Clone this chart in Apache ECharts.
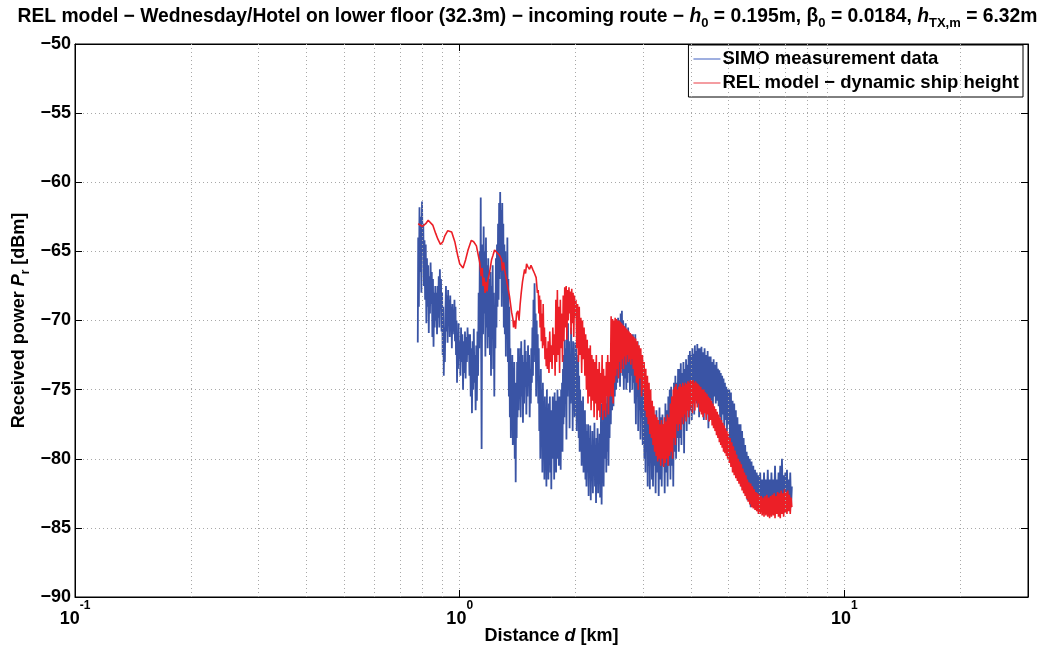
<!DOCTYPE html>
<html><head><meta charset="utf-8">
<script src="https://cdn.jsdelivr.net/npm/echarts@6/dist/echarts.min.js"></script>
<style>html,body{margin:0;padding:0;background:#fff}#c{width:1055px;height:650px}</style>
</head><body><div id="c"></div>
<script>
// SIMO measurement data: [distance km, received power dBm]
const simoData = [
[0.778,-71.6],[0.780,-64],[0.783,-69],[0.786,-61.8],[0.789,-66.5],[0.792,-62.5],[0.795,-68],[0.798,-61.4],[0.801,-65],[0.804,-63],[0.807,-67.5],[0.810,-64.2],
[0.813,-68.5],[0.816,-64.5],[0.819,-70.2],[0.822,-65.5],[0.825,-69],[0.828,-66],[0.831,-70.9],[0.834,-66.8],[0.837,-69.5],[0.840,-65.8],[0.843,-68.8],[0.846,-66.5],[0.849,-71.2],[0.852,-67],[0.855,-71.9],[0.858,-68],[0.861,-70.5],
[0.864,-67.5],[0.867,-70],[0.870,-68],[0.873,-71],[0.876,-67.5],[0.879,-69.8],[0.882,-66.8],[0.885,-70.5],[0.888,-66.3],[0.891,-69],[0.894,-67],[0.897,-70.8],[0.900,-68],[0.903,-72.5],[0.906,-69],[0.909,-74],[0.912,-70.5],[0.915,-73],
[0.918,-69.5],[0.921,-67.5],[0.924,-70.8],[0.927,-68.2],[0.930,-71.6],[0.933,-67.8],[0.936,-70.2],[0.939,-68.5],[0.942,-71.2],[0.945,-68.2],[0.948,-70.5],[0.951,-69],[0.954,-72],[0.957,-68.8],[0.960,-71],[0.963,-69.5],[0.966,-70.8],[0.969,-68.5],
[0.972,-71.5],[0.975,-69],[0.978,-72.5],[0.981,-70],[0.984,-74.5],[0.987,-71],[0.990,-73.5],[0.993,-70.2],[0.996,-72.8],[1.000,-71.5],[1.004,-74],[1.008,-70.5],[1.012,-73],[1.016,-71],[1.020,-75],[1.024,-71.5],[1.028,-73.8],[1.032,-70.8],[1.036,-74.2],[1.040,-71.2],[1.044,-73],[1.048,-70.5],[1.052,-72.5],[1.056,-71],[1.060,-74],
[1.064,-71],[1.068,-75.5],[1.072,-72],[1.076,-76.7],[1.080,-71.5],[1.084,-75],[1.088,-70.6],[1.092,-74.5],[1.096,-72.5],[1.100,-76.5],[1.104,-71.8],[1.108,-75.8],[1.112,-70.8],[1.116,-74],[1.120,-68],[1.124,-72],
[1.128,-65],[1.131,-70],[1.134,-61.1],[1.137,-72],[1.140,-79.3],[1.143,-70],
[1.146,-64.5],[1.150,-71],[1.154,-63.2],[1.158,-69.5],[1.162,-65],[1.166,-72.6],[1.170,-64],[1.174,-70.5],[1.178,-66],[1.182,-72],[1.186,-65.5],[1.190,-71.2],[1.194,-67],
[1.198,-72.5],[1.202,-66.5],[1.206,-74],[1.210,-67.5],[1.214,-71],[1.218,-66],[1.222,-73.5],[1.226,-68],[1.230,-75.5],[1.234,-69],[1.238,-72],[1.242,-65.5],[1.246,-70.5],[1.250,-64.5],[1.254,-69],[1.258,-63],[1.262,-68.5],[1.266,-61.5],
[1.270,-67],[1.274,-60.7],[1.278,-66.5],[1.282,-62],[1.286,-69],[1.290,-61.5],[1.294,-67.5],[1.298,-63],[1.302,-70.5],[1.306,-64.5],
[1.310,-71],[1.314,-65],[1.318,-72.6],[1.322,-66.5],[1.326,-70],[1.330,-64],[1.334,-73],[1.338,-67],[1.342,-75.5],[1.346,-69],
[1.350,-77],[1.354,-72],[1.358,-78.5],[1.362,-73.5],[1.366,-76],[1.370,-72.5],[1.374,-79],[1.378,-74],[1.382,-77.5],[1.386,-73],[1.390,-80],[1.394,-75],[1.398,-81.7],[1.402,-74.5],[1.406,-78.5],[1.410,-73],[1.414,-77],[1.418,-72],[1.422,-76.5],[1.426,-73.5],[1.430,-75.5],
[1.435,-72],[1.440,-77],[1.445,-71.5],[1.450,-75.5],[1.455,-72.5],[1.460,-77.4],[1.465,-73],[1.470,-76],[1.475,-71.4],[1.480,-74.8],[1.485,-72.2],[1.490,-76.8],[1.495,-73],[1.500,-75.5],[1.505,-71.8],[1.510,-74.5],[1.515,-72.5],[1.520,-77],[1.525,-73.5],[1.530,-76],[1.535,-72],[1.540,-74.5],[1.545,-70.5],[1.550,-74],[1.555,-68.5],[1.560,-73],[1.565,-67.3],[1.570,-72],[1.575,-69.5],[1.580,-75.5],[1.585,-70],[1.590,-74],[1.595,-71],[1.600,-76],[1.605,-72],[1.610,-78],
[1.615,-74],[1.620,-80],[1.625,-73.5],[1.630,-79],[1.635,-75],[1.640,-81],[1.645,-74.5],[1.650,-78.5],[1.655,-76],[1.660,-81.5],[1.665,-75.5],[1.670,-79.5],[1.675,-76.5],[1.680,-82],[1.685,-75],[1.690,-80.5],[1.695,-77],[1.700,-81.5],[1.705,-76],[1.710,-79.5],[1.715,-75.5],[1.720,-81],[1.725,-76.5],[1.730,-82.2],[1.735,-77],[1.740,-80],[1.745,-75.5],[1.750,-79],[1.755,-76],[1.760,-81.5],
[1.765,-75.2],[1.770,-79.5],[1.775,-75.8],[1.780,-81],[1.785,-76.5],[1.790,-80],[1.795,-75],[1.800,-78.5],[1.805,-76],[1.810,-80.5],[1.815,-75.5],[1.820,-79],[1.825,-76.2],[1.830,-80.8],[1.835,-75],[1.840,-78],[1.845,-74.5],[1.850,-79.5],[1.855,-73.5],[1.860,-77.5],[1.865,-72.5],[1.870,-77],
[1.876,-71.4],[1.882,-76],[1.888,-72],[1.894,-78.6],[1.900,-71],[1.906,-75.5],[1.912,-70.2],[1.918,-74.8],[1.924,-71.5],[1.930,-77.8],[1.936,-72.5],[1.942,-76],[1.948,-70.5],[1.954,-75],[1.960,-72],[1.966,-78],[1.972,-71.5],[1.978,-76.5],[1.984,-72.8],[1.990,-77],[1.996,-71.6],
[2.002,-75.5],[2.008,-72],[2.014,-78],[2.020,-73],[2.026,-77],[2.032,-72.5],[2.038,-78.5],[2.044,-74],[2.050,-79.5],[2.056,-75],[2.062,-78],[2.068,-75.8],[2.074,-80.5],[2.080,-76],[2.086,-79],[2.092,-75.5],[2.098,-81],[2.104,-77],[2.110,-80],[2.116,-76.5],[2.122,-81.5],[2.128,-77.5],
[2.135,-82],[2.142,-78],[2.149,-81],[2.156,-77.5],[2.163,-82.7],[2.170,-78.5],[2.177,-80.5],[2.184,-77.6],[2.191,-83],[2.198,-79],[2.205,-81.5],[2.212,-78],[2.219,-82.5],[2.226,-78.8],[2.233,-80.8],[2.240,-77.4],[2.247,-82],[2.254,-79],[2.261,-83.2],[2.268,-78.5],[2.275,-81],[2.282,-77.8],[2.289,-82.5],[2.296,-79],[2.303,-81.5],[2.310,-78.2],[2.317,-82.8],[2.324,-79.5],
[2.331,-76],[2.338,-83.3],[2.345,-77.5],[2.352,-81.5],[2.359,-76.5],[2.366,-82],[2.373,-78],
[2.380,-75],[2.388,-80],[2.396,-75.5],[2.404,-81],[2.412,-76],[2.420,-79.5],[2.428,-74.8],[2.436,-80.5],[2.444,-76],[2.452,-78.5],
[2.460,-73.5],[2.470,-77.5],[2.480,-72.5],[2.490,-76.5],[2.500,-71.5],[2.510,-76.2],[2.520,-71],[2.530,-75.5],[2.540,-70.2],[2.550,-75],[2.560,-70.5],[2.570,-74.5],[2.580,-69.8],[2.590,-74],[2.600,-70],[2.610,-74.8],[2.620,-69.5],[2.630,-73.5],[2.640,-69.3],
[2.650,-74],[2.660,-70],[2.670,-75],[2.680,-70.5],[2.690,-74.2],[2.700,-70.2],[2.710,-75],[2.720,-71],[2.730,-74.5],[2.740,-70.5],[2.750,-73.8],[2.760,-71.2],[2.770,-75.2],[2.780,-71],[2.790,-74],[2.800,-71.5],[2.810,-75],[2.820,-71],[2.830,-74.5],[2.840,-71.8],
[2.850,-76],[2.860,-71],[2.870,-77.5],[2.880,-72],[2.890,-75.5],[2.900,-71.5],[2.910,-78],[2.920,-72.5],[2.930,-76.5],[2.940,-73],[2.950,-78.6],[2.960,-73.5],[2.970,-77],[2.980,-74],[2.990,-79],[3.000,-74.5],[3.010,-77.5],
[3.020,-80],[3.030,-74.5],[3.040,-81],[3.050,-75],[3.060,-79.5],[3.070,-75.5],[3.080,-82],[3.090,-76],[3.100,-80.5],[3.110,-75],[3.120,-82.2],[3.130,-77],[3.140,-80],[3.150,-76],[3.160,-81.5],[3.170,-77.5],[3.180,-82],[3.190,-76.5],[3.200,-80.5],
[3.215,-77],[3.230,-82.5],[3.245,-76.5],[3.260,-81],[3.275,-77.5],[3.290,-82.7],[3.305,-76.3],[3.320,-81.5],[3.335,-77],[3.350,-82],[3.365,-76.8],[3.380,-80.5],[3.395,-77.5],[3.410,-82.5],[3.425,-76],[3.440,-81],[3.455,-76.5],[3.470,-82],[3.485,-75.5],[3.500,-80.5],
[3.515,-75],[3.530,-81.5],[3.545,-74.8],[3.560,-80.5],[3.575,-75.5],[3.590,-82],[3.605,-74.5],[3.620,-79.5],[3.635,-74],[3.650,-80],[3.665,-74.5],[3.680,-78.5],[3.695,-73.5],[3.710,-79.5],
[3.725,-73.5],[3.740,-78.5],[3.755,-73.1],[3.770,-79],[3.785,-73.8],[3.800,-77.5],[3.815,-73],[3.830,-79.6],[3.845,-73.5],[3.860,-77],[3.875,-72.8],[3.890,-78],[3.905,-73.2],[3.920,-76.5],[3.935,-72.5],[3.950,-77.5],
[3.965,-72.2],[3.980,-76.5],[3.995,-72.5],[4.010,-77.2],[4.025,-72],[4.040,-75.5],[4.055,-72.4],[4.070,-76.8],[4.085,-71.8],[4.100,-75],[4.115,-72.2],[4.130,-76],[4.145,-71.7],[4.160,-75.5],[4.175,-72],[4.190,-77],
[4.210,-72],[4.230,-76.5],[4.250,-71.9],[4.270,-75.5],[4.290,-72.3],[4.310,-77.2],[4.330,-72],[4.350,-75.8],[4.370,-72.5],[4.390,-76.5],[4.410,-72.2],[4.430,-77.8],[4.450,-72.6],
[4.470,-76],[4.490,-72.6],[4.510,-75.8],[4.530,-73],[4.550,-76.3],[4.570,-72.8],[4.590,-75.5],[4.610,-73.2],[4.630,-76],[4.650,-73],[4.670,-75.8],[4.690,-73.5],[4.710,-76.2],
[4.730,-73.6],[4.750,-77],[4.770,-73.8],[4.790,-77.5],[4.810,-74],[4.830,-76.8],[4.850,-74.2],[4.870,-77.9],[4.890,-74.5],[4.910,-77.2],[4.930,-74.8],[4.950,-78],[4.970,-75],[4.990,-77.5],
[5.020,-75],[5.045,-79.5],[5.070,-75.2],[5.095,-80],[5.120,-75.8],[5.145,-80.5],[5.170,-76],[5.195,-79.8],[5.220,-76.5],[5.245,-80.8],[5.270,-77],[5.295,-80.2],[5.320,-77.5],
[5.345,-81.5],[5.370,-77.5],[5.395,-82],[5.420,-78],[5.445,-81.8],[5.470,-78.5],[5.495,-82.5],[5.520,-79],[5.545,-82],[5.570,-79.5],[5.595,-83],[5.620,-79.8],[5.645,-82.8],
[5.675,-80],[5.705,-83.5],[5.735,-80.2],[5.765,-83],[5.795,-80.5],[5.825,-83.5],[5.855,-80.8],[5.885,-83.2],[5.915,-81],[5.945,-83.8],[5.975,-81.2],
[6.005,-83.5],[6.040,-81],[6.075,-83.8],[6.110,-81.5],[6.145,-83.5],[6.180,-81],[6.215,-83.6],[6.250,-81.5],[6.285,-83.2],[6.320,-80.8],[6.355,-83.5],[6.390,-81.5],[6.425,-83.8],[6.460,-81],[6.495,-83.3],[6.530,-81.5],[6.565,-83.5],[6.600,-80.5],[6.635,-83],[6.670,-81.5],[6.705,-83.4],[6.740,-81],
[6.775,-83],[6.810,-80.5],[6.845,-83.2],[6.880,-80],[6.915,-83],[6.950,-81.2],[6.985,-83.5],[7.020,-81],[7.055,-83],[7.090,-80.8],[7.125,-83.2],[7.160,-81.5],[7.195,-83],[7.230,-81],[7.265,-83.5],[7.300,-82]
];

// REL model - dynamic ship height: [distance km, received power dBm]
const relData = [
[0.780,-63.0],[0.788,-63.1],[0.800,-63.2],[0.806,-63.15],[0.816,-63.0],[0.828,-62.75],[0.836,-62.8],[0.851,-63.1],[0.866,-63.7],[0.877,-64.1],[0.891,-64.5],[0.904,-64.3],[0.914,-63.9],[0.931,-63.5],[0.942,-63.4],[0.953,-63.6],[0.971,-64.3],[0.988,-65.3],[1.000,-65.9],[1.020,-66.2],[1.036,-65.6],[1.051,-64.9],[1.072,-64.2],[1.087,-64.3],[1.105,-64.6],[1.127,-65.8],
[1.137,-66.8],[1.144,-66.2],[1.150,-67.5],[1.157,-66.9],[1.164,-68.0],[1.170,-67.2],[1.178,-67.9],[1.185,-67.0],[1.196,-66.5],[1.210,-65.6],[1.220,-65.3],[1.232,-64.9],[1.245,-65.0],[1.270,-65.3],[1.284,-65.6],[1.291,-66.4],[1.300,-65.8],[1.308,-66.3],[1.322,-67.0],[1.348,-68.3],[1.364,-69.4],[1.375,-69.9],[1.380,-70.5],[1.389,-70.0],[1.397,-70.6],[1.405,-69.5],[1.416,-69.3],[1.426,-70.0],[1.435,-68.9],[1.445,-68.0],[1.456,-67.2],[1.474,-66.3],[1.483,-66.6],[1.492,-65.9],[1.503,-66.1],[1.519,-66.3],[1.532,-66.0],[1.548,-66.3],[1.565,-66.6],[1.580,-66.9],[1.592,-68.0],
[1.600,-67.8],[1.606,-69.5],[1.612,-68.2],[1.618,-70.5],[1.624,-68.5],[1.630,-71.5],[1.636,-69.5],[1.642,-72],[1.648,-68.8],[1.654,-71.8],[1.660,-70.5],[1.666,-72.8],[1.672,-71.2],[1.678,-73.3],[1.684,-72],[1.690,-73.5],
[1.698,-71.5],[1.706,-73.8],[1.714,-70.8],[1.722,-73],[1.730,-71.8],[1.738,-73.5],[1.746,-70.5],[1.754,-72.5],[1.762,-71],[1.770,-74],[1.778,-68.5],[1.786,-73],
[1.794,-67.8],[1.802,-72.5],[1.810,-69],[1.818,-73.8],[1.826,-68.5],[1.834,-72],[1.842,-69.5],[1.850,-73],[1.858,-68.2],[1.866,-71.5],
[1.875,-67.6],[1.883,-70.5],[1.891,-67.5],[1.899,-71.4],[1.907,-67.8],[1.915,-70],[1.923,-67.6],[1.931,-69.5],[1.939,-67.9],[1.947,-71],[1.955,-67.7],[1.963,-70.2],[1.971,-68],[1.979,-71.2],[1.987,-68.2],[1.995,-69.8],
[2.005,-68.5],[2.015,-72],[2.025,-68.8],[2.035,-73],[2.045,-69],[2.055,-72.5],[2.065,-69.8],[2.075,-73.8],[2.085,-70],[2.095,-72.8],[2.105,-70.5],[2.115,-74],[2.125,-71],
[2.135,-75],[2.145,-71.4],[2.155,-76],[2.165,-72],[2.175,-75.5],[2.185,-71.8],[2.195,-76.5],[2.205,-72.5],[2.215,-75.8],[2.225,-72.8],[2.235,-77],[2.245,-73],[2.255,-76],[2.265,-72.5],[2.275,-77.2],[2.285,-73.5],[2.295,-76.5],[2.305,-73],[2.315,-77],[2.325,-73.8],[2.335,-76],[2.345,-72.5],[2.355,-77.2],[2.365,-73.5],[2.375,-76.5],[2.385,-74],[2.395,-77],[2.405,-73],[2.415,-75.5],[2.425,-72.5],[2.435,-76.8],[2.445,-73],[2.455,-75.5],[2.465,-74],
[2.475,-69.7],[2.485,-75.5],[2.495,-69.9],[2.505,-76],[2.515,-70],
[2.525,-74.5],[2.535,-69.8],[2.545,-74],[2.555,-69.9],[2.565,-73.5],[2.575,-70],[2.585,-74.2],[2.595,-70],[2.605,-73],[2.615,-70.1],[2.625,-73.8],[2.635,-70.2],[2.645,-72.8],[2.655,-70.3],[2.665,-73.5],[2.675,-70.4],[2.685,-72.6],[2.695,-70.5],[2.705,-73.2],[2.715,-70.6],[2.725,-72.5],[2.735,-70.7],[2.745,-73],[2.755,-70.8],[2.765,-72.8],[2.775,-70.9],[2.785,-73.2],[2.795,-71],[2.805,-72.8],[2.815,-71.1],[2.825,-73.5],[2.835,-71.2],
[2.850,-74],[2.865,-71.3],[2.880,-74.5],[2.895,-71.5],[2.910,-75],[2.925,-71.8],[2.940,-74.2],[2.955,-72],[2.970,-75.5],[2.985,-72.5],[3.000,-75],[3.015,-73],[3.030,-76.5],[3.045,-73.5],
[3.060,-77],[3.075,-74],[3.090,-77.5],[3.105,-74.5],[3.120,-78.2],[3.135,-75],[3.150,-78.5],[3.165,-75.8],[3.180,-79],[3.195,-76.2],[3.210,-79.5],[3.225,-76.8],[3.240,-79.8],[3.255,-77],[3.270,-80.2],[3.285,-77.2],[3.300,-80],[3.315,-77.5],[3.330,-80.5],[3.345,-77.2],[3.360,-80],[3.375,-77.5],[3.390,-80.6],
[3.405,-77],[3.420,-80.3],[3.435,-77.3],[3.450,-80],[3.465,-76.8],[3.480,-80.5],[3.495,-77],
[3.515,-79.8],[3.530,-76],[3.545,-79.5],[3.560,-75.5],[3.575,-80],[3.590,-75],[3.605,-78.5],[3.620,-74.8],[3.635,-79],[3.650,-74.6],[3.665,-77.5],[3.680,-75],[3.695,-78],[3.710,-74.8],
[3.725,-77.5],[3.740,-74.6],[3.755,-77.9],[3.770,-74.8],[3.785,-77],[3.800,-74.5],[3.815,-77.5],[3.830,-74.7],[3.845,-76.8],[3.860,-74.5],[3.875,-77.3],[3.890,-74.6],[3.905,-76.5],[3.920,-74.4],[3.935,-77],[3.950,-74.5],
[3.965,-76.5],[3.980,-74.3],[3.995,-76.2],[4.010,-74.4],[4.025,-76.7],[4.040,-74.3],[4.055,-76],[4.070,-74.5],[4.085,-76.5],[4.100,-74.4],[4.115,-75.8],[4.130,-74.5],[4.145,-76.3],[4.160,-74.6],[4.175,-76],[4.190,-74.7],
[4.210,-76.6],[4.230,-74.8],[4.250,-76.8],[4.270,-75],[4.290,-77],[4.310,-75],[4.330,-76.7],[4.350,-75.2],[4.370,-77.2],[4.390,-75.3],[4.410,-76.8],[4.430,-75.5],[4.450,-77.3],[4.470,-75.6],[4.490,-77.2],[4.510,-75.8],[4.530,-77.6],[4.550,-76],[4.570,-77.8],[4.590,-76.2],[4.610,-78],[4.630,-76.4],[4.650,-78.3],[4.670,-76.6],[4.690,-78.5],[4.710,-76.8],
[4.730,-78.8],[4.750,-77],[4.770,-79],[4.790,-77.2],[4.810,-79.2],[4.830,-77.4],[4.850,-79.5],[4.870,-77.6],[4.890,-79.6],[4.910,-77.8],[4.930,-79.8],[4.950,-78],[4.970,-80],[4.990,-78.2],
[5.020,-80.3],[5.045,-78.5],[5.070,-80.6],[5.095,-78.8],[5.120,-81],[5.145,-79.1],[5.170,-81.2],[5.195,-79.4],[5.220,-81.4],[5.245,-79.7],[5.270,-81.6],[5.295,-80],[5.320,-81.8],
[5.345,-80.2],[5.370,-82],[5.395,-80.4],[5.420,-82.3],[5.445,-80.7],[5.470,-82.5],[5.495,-81],[5.520,-82.7],[5.545,-81.2],[5.570,-82.9],[5.595,-81.5],[5.620,-83.1],[5.645,-81.7],
[5.675,-83.3],[5.705,-81.8],[5.735,-83.5],[5.765,-82],[5.795,-83.6],[5.825,-82.2],[5.855,-83.7],[5.885,-82.4],[5.915,-83.8],[5.945,-82.5],[5.975,-84],
[6.005,-82.6],[6.040,-84],[6.075,-82.7],[6.110,-84.1],[6.145,-82.8],[6.180,-84.2],[6.215,-82.7],[6.250,-84.1],[6.285,-82.6],[6.320,-84.2],[6.355,-82.8],[6.390,-84.3],[6.425,-82.7],[6.460,-84.2],[6.495,-82.6],[6.530,-84.1],[6.565,-82.5],[6.600,-84.3],[6.635,-82.7],[6.670,-84],[6.705,-82.4],[6.740,-84.2],
[6.775,-82.5],[6.810,-84.3],[6.845,-82.3],[6.880,-84],[6.915,-82.5],[6.950,-84.2],[6.985,-82.2],[7.020,-83.9],[7.055,-82.4],[7.090,-84],[7.125,-82.3],[7.160,-83.8],[7.195,-82.6],[7.230,-84],[7.265,-82.8],[7.300,-83.5]
];

const seriesNames = ['SIMO measurement data', 'REL model \u2212 dynamic ship height'];
const xMajorTicks = [0.1, 1, 10];
const xTickExponents = ['-1', '0', '1'];
const xMinorGrid = [0.2,0.3,0.4,0.5,0.6,0.7,0.8,0.9,2,3,4,5,6,7,8,9,20];
const xRange = [0.1, 30];
const yRange = [-90, -50];
const yStep = 5;

const FONT = "'Liberation Sans', Arial, sans-serif";
const gridDot = { color: '#a8a8a8', width: 1, type: [1, 3] };

function xLabel(v) {
  for (let i = 0; i < xMajorTicks.length; i++) {
    if (Math.abs(v - xMajorTicks[i]) < 1e-9 * xMajorTicks[i] + 1e-12) {
      return '{b|10}{e|' + xTickExponents[i] + '}';
    }
  }
  return '';
}

const chart = echarts.init(document.getElementById('c'), null, { renderer: 'canvas' });
chart.setOption({
  animation: false,
  backgroundColor: '#fff',
  textStyle: { fontFamily: FONT, fontWeight: 'bold', color: '#000' },
  title: {
    text: 'REL model \u2212 Wednesday/Hotel on lower floor (32.3m) \u2212 incoming route \u2212 {i|h}{s|0} = 0.195m, \u03b2{s|0} = 0.0184, {i|h}{s|TX,m} = 6.32m',
    left: 'center', top: -1,
    textStyle: {
      fontFamily: FONT, fontWeight: 'bold', fontSize: 19.3, color: '#000', lineHeight: 26,
      rich: {
        i: { fontFamily: FONT, fontWeight: 'bold', fontStyle: 'italic', fontSize: 19.3, color: '#000', lineHeight: 26 },
        s: { fontFamily: FONT, fontWeight: 'bold', fontSize: 13, color: '#000', lineHeight: 12, verticalAlign: 'bottom' }
      }
    }
  },
  legend: {
    data: seriesNames,
    orient: 'vertical',
    right: 32, top: 45,
    backgroundColor: '#fff',
    borderColor: '#000', borderWidth: 1, borderRadius: 0,
    padding: [3, 4, 3, 5],
    itemGap: 2,
    itemWidth: 27, itemHeight: 1.5,
    icon: 'rect',
    textStyle: { fontFamily: FONT, fontWeight: 'bold', fontSize: 18.5, color: '#000', lineHeight: 22, padding: [0, 0, 0, -3] }
  },
  grid: { left: 75, right: 27, top: 44, bottom: 53, show: true, borderColor: '#000', borderWidth: 1, backgroundColor: '#fff', outerBoundsMode: 'none', containLabel: false },
  xAxis: [{
    type: 'log', logBase: 10, min: xRange[0], max: xRange[1],
    name: 'Distance {i|d} [km]', nameLocation: 'middle', nameGap: 30, nameMoveOverlap: false,
    nameTextStyle: {
      fontFamily: FONT, fontWeight: 'bold', fontSize: 18, color: '#000',
      rich: { i: { fontFamily: FONT, fontWeight: 'bold', fontStyle: 'italic', fontSize: 18, color: '#000' } }
    },
    axisLine: { show: true, lineStyle: { color: '#000', width: 1 } },
    axisTick: { show: true, inside: true, length: 7, lineStyle: { color: '#000' } },
    splitLine: { show: true, lineStyle: gridDot },
    axisLabel: {
      margin: 3,
      formatter: xLabel,
      rich: {
        b: { fontFamily: FONT, fontWeight: 'bold', fontSize: 18, color: '#000', lineHeight: 28, verticalAlign: 'bottom' },
        e: { fontFamily: FONT, fontWeight: 'bold', fontSize: 12, color: '#000', lineHeight: 12, verticalAlign: 'top' }
      }
    }
  }, {
    type: 'log', logBase: 10, min: xRange[0], max: xRange[1], position: 'top',
    axisLine: { show: true, lineStyle: { color: '#000', width: 1 } },
    axisTick: { show: true, inside: true, length: 7, lineStyle: { color: '#000' } },
    axisLabel: { show: false }, splitLine: { show: false }
  }],
  yAxis: [{
    type: 'value', min: yRange[0], max: yRange[1], interval: yStep,
    name: 'Received power {i|P}{s|r} [dBm]', nameLocation: 'middle', nameGap: 43, nameRotate: 90, nameMoveOverlap: false,
    nameTextStyle: {
      fontFamily: FONT, fontWeight: 'bold', fontSize: 18, color: '#000', lineHeight: 26,
      rich: {
        i: { fontFamily: FONT, fontWeight: 'bold', fontStyle: 'italic', fontSize: 18, color: '#000', lineHeight: 26 },
        s: { fontFamily: FONT, fontWeight: 'bold', fontSize: 12, color: '#000', lineHeight: 12, verticalAlign: 'bottom' }
      }
    },
    axisLine: { show: true, lineStyle: { color: '#000', width: 1 } },
    axisTick: { show: true, inside: true, length: 7, lineStyle: { color: '#000' } },
    splitLine: { show: true, lineStyle: gridDot },
    axisLabel: {
      margin: 4, fontFamily: FONT, fontWeight: 'bold', fontSize: 18, color: '#000',
      formatter: function (v) { return String(v).replace('-', '\u2212'); }
    }
  }, {
    type: 'value', min: yRange[0], max: yRange[1], interval: yStep, position: 'right',
    axisLine: { show: true, lineStyle: { color: '#000', width: 1 } },
    axisTick: { show: true, inside: true, length: 7, lineStyle: { color: '#000' } },
    axisLabel: { show: false }, splitLine: { show: false }
  }],
  series: [
    {
      name: 'minor-grid', type: 'line', data: [], xAxisIndex: 0, yAxisIndex: 0, silent: true, z: 1,
      markLine: {
        silent: true, symbol: 'none', label: { show: false },
        lineStyle: gridDot, animation: false,
        data: xMinorGrid.map(function (v) { return { xAxis: v }; })
      }
    },
    {
      name: seriesNames[0], type: 'line', data: simoData, showSymbol: false, symbol: 'none',
      xAxisIndex: 0, yAxisIndex: 0, z: 3,
      lineStyle: { color: '#3a54a5', width: 1.8 }, itemStyle: { color: '#7f95d6' }
    },
    {
      name: seriesNames[1], type: 'line', data: relData, showSymbol: false, symbol: 'none',
      xAxisIndex: 0, yAxisIndex: 0, z: 4,
      lineStyle: { color: '#ec1f27', width: 1.6 }, itemStyle: { color: '#f07d82' }
    }
  ]
});
</script>
</body></html>
